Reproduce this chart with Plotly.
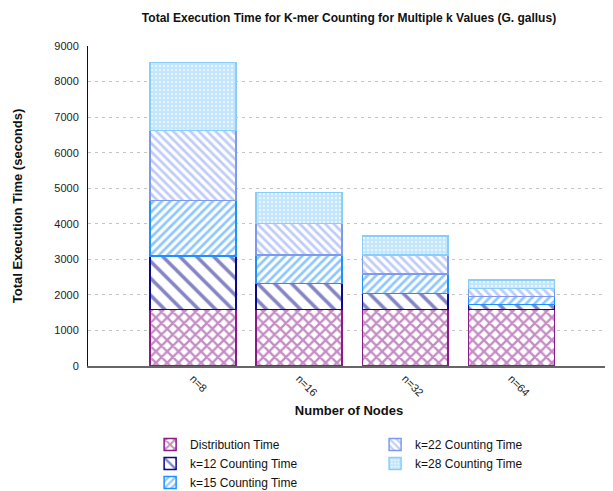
import plotly.graph_objects as go

nodes = ["n=8", "n=16", "n=32", "n=64"]
distribution = [1590, 1595, 1595, 1595]
k12 = [1500, 730, 450, 140]
k15 = [1560, 795, 545, 215]
k22 = [1980, 890, 535, 235]
k28 = [1900, 865, 535, 235]
y_ticks = [0, 1000, 2000, 3000, 4000, 5000, 6000, 7000, 8000, 9000]

series = [
    ("Distribution Time", distribution, "#8B1A8B", "x", 8, 0.5, "legend"),
    ("k=12 Counting Time", k12, "#0A0A8C", "\\", 12, 0.3, "legend"),
    ("k=15 Counting Time", k15, "#1E90FF", "/", 6, 0.45, "legend"),
    ("k=22 Counting Time", k22, "#7E9AF0", "\\", 6, 0.45, "legend2"),
    ("k=28 Counting Time", k28, "#87CEFA", ".", 4, 0.8, "legend2"),
]

xpos = list(range(len(nodes)))
fig = go.Figure()
for name, vals, col, shape, size, sol, lg in series:
    fig.add_trace(go.Bar(
        x=xpos, y=vals, name=name, width=0.81, legend=lg,
        marker=dict(color="white", line=dict(color=col, width=1.5),
                    pattern=dict(shape=shape, fgcolor=col, bgcolor="white",
                                 size=size, solidity=sol, fillmode="overlay")),
    ))

fig.update_layout(
    barmode="stack",
    width=605, height=483,
    margin=dict(l=80, r=3, t=38, b=125, autoexpand=False),
    plot_bgcolor="white", paper_bgcolor="white",
    font=dict(family="Liberation Sans, Arial, sans-serif", size=11, color="#222"),
    title=dict(text="<b>Total Execution Time for K-mer Counting for Multiple k Values (G. gallus)</b>",
               x=0.5, xref="paper", xanchor="center", y=0.979, yanchor="middle",
               font=dict(size=12, color="#111")),
    xaxis=dict(range=[-0.99, 3.93], tickvals=xpos, ticktext=nodes, tickangle=45,
               showgrid=False, showline=True, linecolor="#666", linewidth=2,
               ticks="", zeroline=False, automargin=False,
               title=dict(text="<b>Number of Nodes</b>", font=dict(size=13, color="#111"), standoff=8)),
    yaxis=dict(range=[0, 9000], tickvals=y_ticks, showgrid=True, gridcolor="#c4c4c4",
               griddash="3px,4px", gridwidth=1, showline=True, linecolor="#111", linewidth=1,
               ticks="", zeroline=False, automargin=False, ticklabelstandoff=6,
               title=dict(text="<b>Total Execution Time (seconds)</b>", font=dict(size=13, color="#111"), standoff=28)),
    legend=dict(x=0.119, y=-0.2, xanchor="left", yanchor="top", orientation="v",
                traceorder="normal",
                font=dict(size=12, color="#111"), tracegroupgap=0, bgcolor="rgba(0,0,0,0)"),
    legend2=dict(x=0.55, y=-0.2, xanchor="left", yanchor="top", orientation="v",
                 traceorder="normal",
                 font=dict(size=12, color="#111"), tracegroupgap=0, bgcolor="rgba(0,0,0,0)"),
)

fig.write_html("out.html")
